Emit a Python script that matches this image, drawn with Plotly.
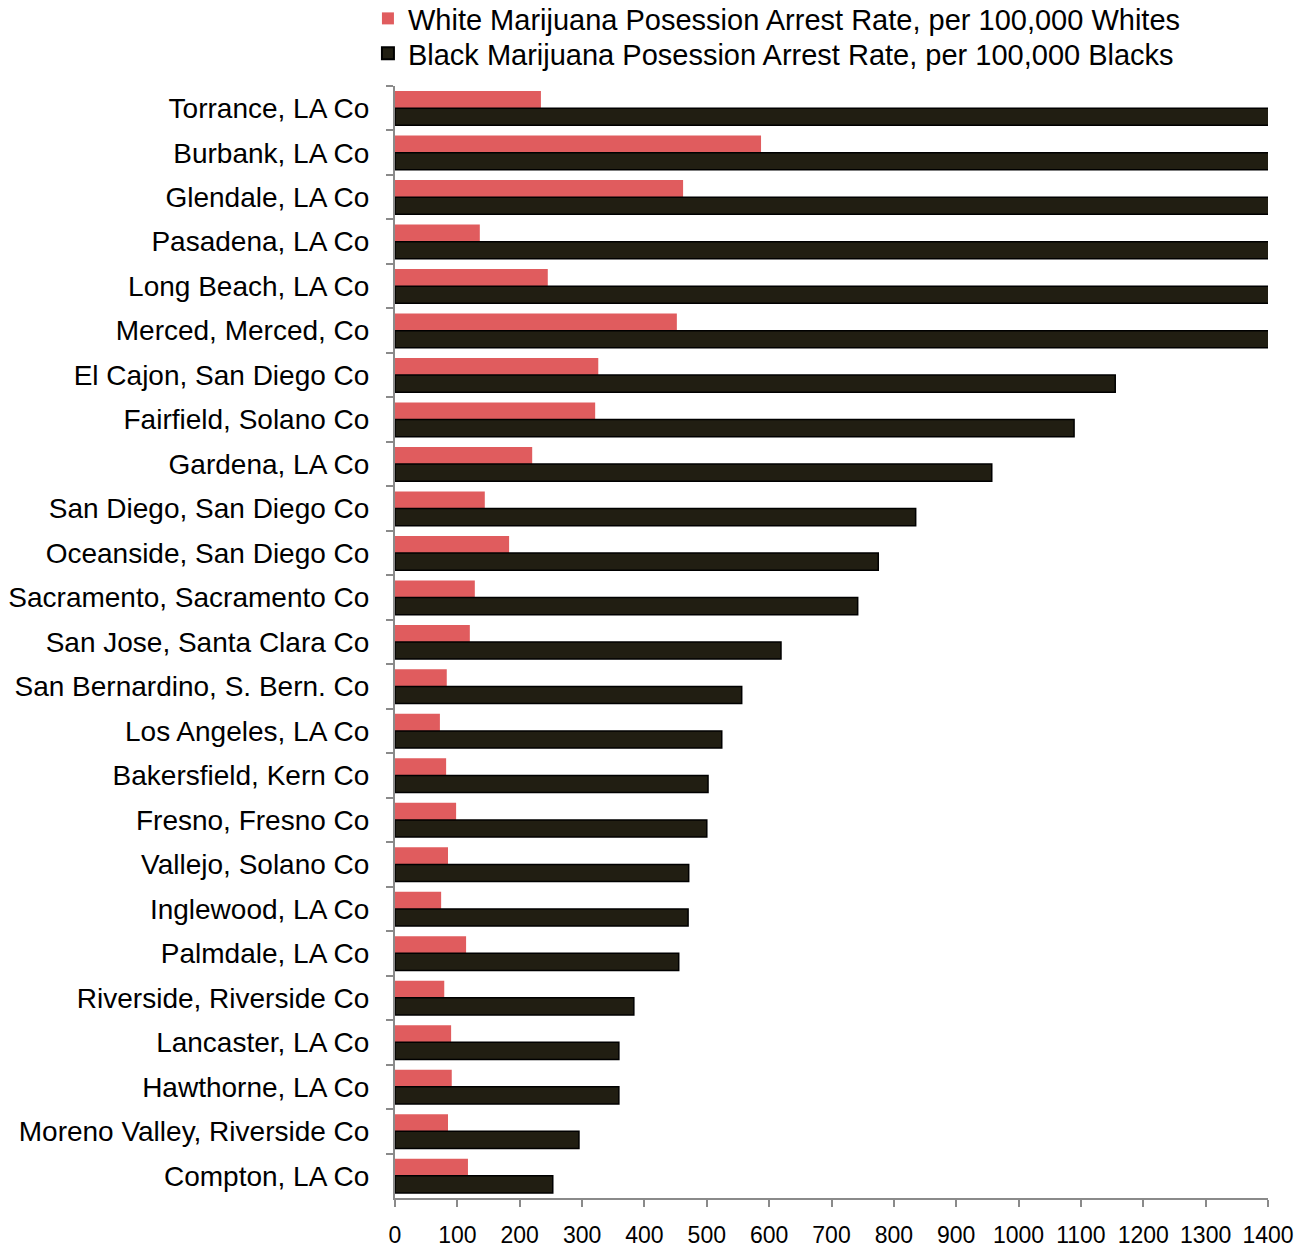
import plotly.graph_objects as go

cities = [
    "Torrance, LA Co", "Burbank, LA Co", "Glendale, LA Co", "Pasadena, LA Co",
    "Long Beach, LA Co", "Merced, Merced, Co", "El Cajon, San Diego Co",
    "Fairfield, Solano Co", "Gardena, LA Co", "San Diego, San Diego Co",
    "Oceanside, San Diego Co", "Sacramento, Sacramento Co", "San Jose, Santa Clara Co",
    "San Bernardino, S. Bern. Co", "Los Angeles, LA Co", "Bakersfield, Kern Co",
    "Fresno, Fresno Co", "Vallejo, Solano Co", "Inglewood, LA Co", "Palmdale, LA Co",
    "Riverside, Riverside Co", "Lancaster, LA Co", "Hawthorne, LA Co",
    "Moreno Valley, Riverside Co", "Compton, LA Co",
]

white_rate = [234, 587, 462, 136, 245, 452, 326, 321, 220, 144, 183, 128, 120,
              83, 72, 82, 98, 85, 74, 114, 79, 90, 91, 85, 117]

black_rate = [2640, 2360, 1880, 1720, 1650, 1600, 1155, 1089, 957, 835, 775, 742, 619,
              556, 524, 502, 500, 471, 470, 455, 383, 359, 359, 295, 253]

x_ticks = list(range(0, 1401, 100))

FONT = "Liberation Sans, Arial, sans-serif"
AXIS_GREY = "#8a8a8a"

fig = go.Figure()
fig.add_trace(go.Bar(
    y=cities, x=white_rate, orientation="h",
    name="White Marijuana Posession Arrest Rate, per 100,000 Whites",
    marker=dict(color="#e05c5e", line=dict(width=0)),
    legend="legend",
))
fig.add_trace(go.Bar(
    y=cities, x=black_rate, orientation="h",
    name="Black Marijuana Posession Arrest Rate, per 100,000 Blacks",
    marker=dict(color="#211e12", line=dict(color="#000000", width=1.5)),
    legend="legend2",
))

legend_style = dict(
    x=-0.031, xanchor="left", yanchor="top",
    font=dict(size=29, family=FONT, color="#000000"),
    bgcolor="rgba(0,0,0,0)", itemsizing="constant",
)

fig.update_layout(
    width=1307, height=1249,
    margin=dict(l=395, r=39, t=86, b=51, pad=0, autoexpand=False),
    paper_bgcolor="white", plot_bgcolor="white",
    barmode="group", bargap=0.23, bargroupgap=0,
    font=dict(family=FONT, color="#000000"),
    showlegend=True,
    legend=dict(y=1.0836, **legend_style),
    legend2=dict(y=1.0522, **legend_style),
)

fig.update_xaxes(
    range=[0, 1400], tickvals=x_ticks, ticktext=[str(v) for v in x_ticks],
    showgrid=False, zeroline=False,
    showline=True, linecolor=AXIS_GREY, linewidth=2,
    ticks="outside", ticklen=7, tickwidth=2, tickcolor=AXIS_GREY,
    tickfont=dict(size=23, family=FONT, color="#000000"),
    ticklabelstandoff=8,
)
fig.update_yaxes(
    categoryorder="array", categoryarray=cities,
    range=[len(cities) - 0.5, -0.5],
    showgrid=False, zeroline=False,
    showline=True, linecolor=AXIS_GREY, linewidth=2,
    ticks="outside", tickson="boundaries", ticklen=7, tickwidth=2, tickcolor=AXIS_GREY,
    tickfont=dict(size=28, family=FONT, color="#000000"),
    ticklabelstandoff=18,
)

fig.write_html("out.html")
